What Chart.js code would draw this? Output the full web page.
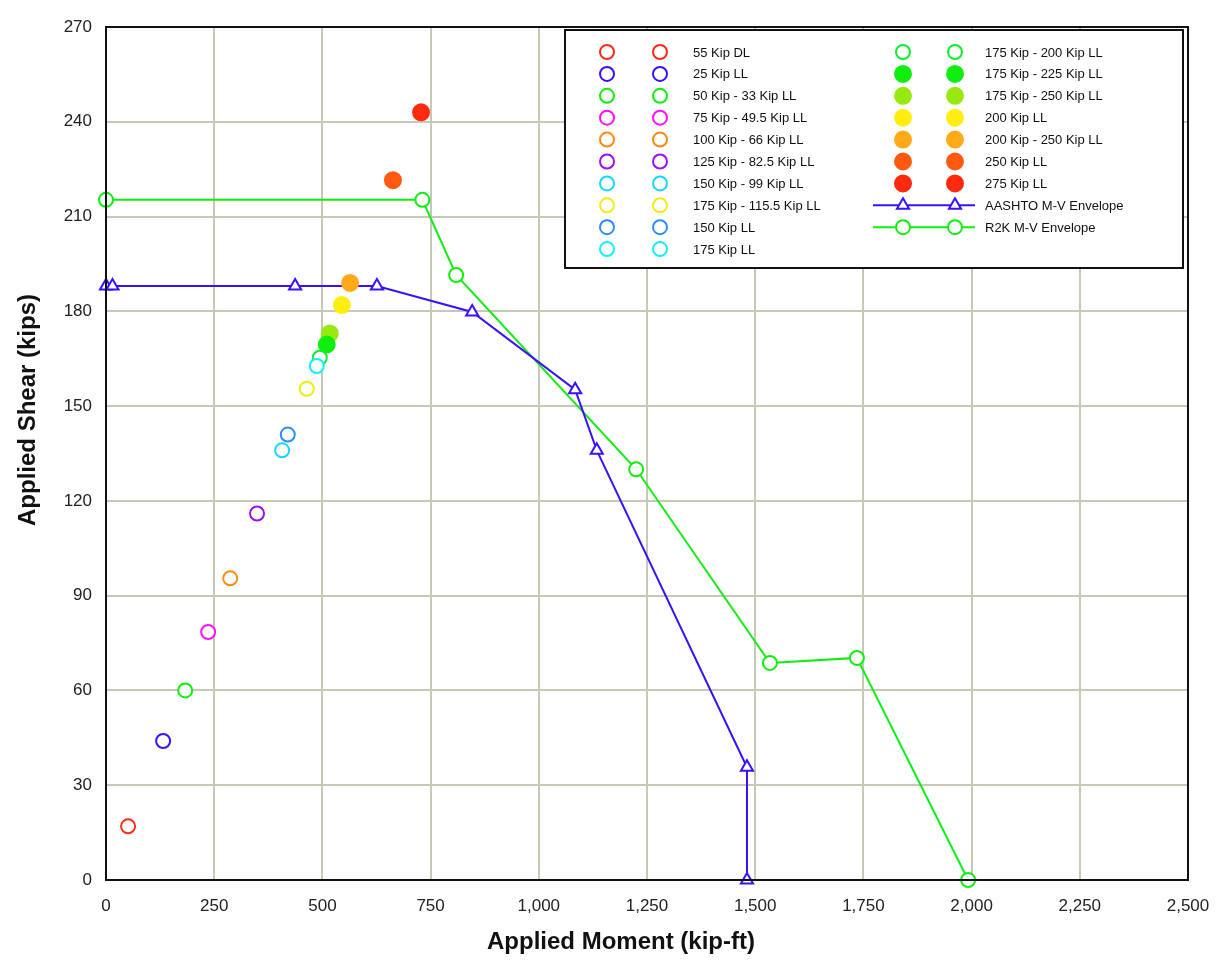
<!DOCTYPE html>
<html>
<head>
<meta charset="utf-8">
<script src="https://cdn.jsdelivr.net/npm/chart.js@4.4.0/dist/chart.umd.min.js"></script>
<style>
  html, body { margin: 0; padding: 0; background: #fff; }
  #wrap { width: 1231px; height: 963px; position: relative; }
</style>
</head>
<body>
<div id="wrap"><canvas id="mvChart"></canvas></div>
<script>
// Single load cases (one point each)
const loadLabels = ['55 Kip DL', '25 Kip LL', '50 Kip - 33 Kip LL', '75 Kip - 49.5 Kip LL',
  '100 Kip - 66 Kip LL', '125 Kip - 82.5 Kip LL', '150 Kip - 99 Kip LL', '175 Kip - 115.5 Kip LL',
  '150 Kip LL', '175 Kip LL', '175 Kip - 200 Kip LL', '175 Kip - 225 Kip LL', '175 Kip - 250 Kip LL',
  '200 Kip LL', '200 Kip - 250 Kip LL', '250 Kip LL', '275 Kip LL'];
const loadMoment = [51, 132, 183, 236, 287, 349, 407, 464, 420, 487, 494, 510, 517, 545, 564, 663, 728];
const loadShear = [17, 44, 60, 78.5, 95.5, 116, 136, 155.5, 141, 162.7, 165.3, 169.5, 173, 182, 189, 221.5, 243];
const loadColors = ['#ff2a1a', '#3a10ff', '#10ee10', '#ff10ff', '#ff8a10', '#9a10ff', '#10d8ff', '#eeee10',
  '#2a8cff', '#10f0ff', '#10ee30', '#10ee10', '#99e810', '#ffee10', '#ffaa18', '#ff5a10', '#ff2a10'];
const loadFilled = [false, false, false, false, false, false, false, false, false, false, false,
  true, true, true, true, true, true];

// Envelopes
const aashtoMoment = [0, 15, 437, 626, 846, 1084, 1134, 1481, 1481];
const aashtoShear = [188, 188, 188, 188, 179.8, 155.2, 136, 35.7, 0];
const r2kMoment = [0, 731, 809, 1225, 1534, 1735, 1992];
const r2kShear = [215.3, 215.3, 191.5, 130, 68.7, 70.3, 0];

const FONT = "'Liberation Sans', Arial, sans-serif";

function toPoints(xs, ys) {
  return xs.map((x, i) => ({ x: x, y: ys[i] }));
}

const datasets = loadLabels.map((name, i) => ({
  label: name,
  data: [{ x: loadMoment[i], y: loadShear[i] }],
  showLine: false,
  pointStyle: 'circle',
  pointRadius: loadFilled[i] ? 8 : 7,
  pointBorderWidth: 2,
  borderColor: loadColors[i],
  backgroundColor: loadFilled[i] ? loadColors[i] : '#ffffff',
  clip: false
}));

datasets.push({
  label: 'AASHTO M-V Envelope',
  data: toPoints(aashtoMoment, aashtoShear),
  showLine: true,
  borderColor: '#3a10ff',
  borderWidth: 2,
  backgroundColor: '#ffffff',
  pointStyle: 'triangle',
  pointRadius: 7,
  pointBorderWidth: 2,
  clip: false
});
datasets.push({
  label: 'R2K M-V Envelope',
  data: toPoints(r2kMoment, r2kShear),
  showLine: true,
  borderColor: '#10ee10',
  borderWidth: 2,
  backgroundColor: '#ffffff',
  pointStyle: 'circle',
  pointRadius: 7,
  pointBorderWidth: 2,
  clip: false
});

// Frame, axis titles and the boxed two-column legend
const decorPlugin = {
  id: 'decor',
  afterDraw(chart) {
    const ctx = chart.ctx;
    const a = chart.chartArea;
    ctx.save();
    // plot frame
    ctx.strokeStyle = '#111';
    ctx.lineWidth = 2;
    ctx.strokeRect(a.left, a.top, a.right - a.left, a.bottom - a.top);

    // axis titles
    ctx.fillStyle = '#111';
    ctx.font = 'bold 24px ' + FONT;
    ctx.textAlign = 'center';
    ctx.textBaseline = 'middle';
    ctx.fillText('Applied Moment (kip-ft)', 621, 942);
    ctx.save();
    ctx.translate(28, 410);
    ctx.rotate(-Math.PI / 2);
    ctx.fillText('Applied Shear (kips)', 0, 0);
    ctx.restore();

    // legend box
    ctx.fillStyle = '#fff';
    ctx.fillRect(565, 30, 618, 238);
    ctx.strokeStyle = '#111';
    ctx.lineWidth = 2;
    ctx.strokeRect(565, 30, 618, 238);

    ctx.font = '13px ' + FONT;
    ctx.textAlign = 'left';
    chart.data.datasets.forEach((ds, i) => {
      const col = i < 10 ? 0 : 1;
      const row = i < 10 ? i : i - 10;
      const y = 52 + row * 21.9;
      const m1 = col === 0 ? 607 : 903;
      const m2 = col === 0 ? 660 : 955;
      const tx = col === 0 ? 693 : 985;
      if (ds.showLine) {
        ctx.strokeStyle = ds.borderColor;
        ctx.lineWidth = 2;
        ctx.beginPath();
        ctx.moveTo(873, y);
        ctx.lineTo(975, y);
        ctx.stroke();
      }
      [m1, m2].forEach(mx => {
        ctx.strokeStyle = ds.borderColor;
        ctx.fillStyle = ds.backgroundColor;
        ctx.lineWidth = ds.pointBorderWidth;
        Chart.helpers.drawPoint(ctx, {
          pointStyle: ds.pointStyle,
          radius: ds.pointRadius,
          rotation: 0,
          borderWidth: ds.pointBorderWidth
        }, mx, y);
      });
      ctx.fillStyle = '#111';
      ctx.fillText(ds.label, tx, y + 1);
    });
    ctx.restore();
  }
};

const ctx = document.getElementById('mvChart').getContext('2d');
window.mvChart = new Chart(ctx, {
  type: 'scatter',
  data: { datasets: datasets },
  options: {
    responsive: true,
    maintainAspectRatio: false,
    animation: false,
    layout: { padding: { top: 27, right: 43, left: 0, bottom: 0 } },
    plugins: {
      legend: { display: false },
      tooltip: { enabled: false }
    },
    scales: {
      x: {
        type: 'linear',
        min: 0,
        max: 2500,
        afterFit(scale) { scale.height = 83; },
        grid: { color: '#c8c8b8', lineWidth: 2, drawTicks: false },
        border: { display: false },
        ticks: {
          stepSize: 250,
          padding: 16,
          color: '#222',
          font: { family: FONT, size: 17 },
          callback: v => v.toLocaleString('en-US')
        }
      },
      y: {
        type: 'linear',
        min: 0,
        max: 270,
        afterFit(scale) { scale.width = 106; },
        grid: { color: '#c8c8b8', lineWidth: 2, drawTicks: false },
        border: { display: false },
        ticks: {
          stepSize: 30,
          padding: 14,
          color: '#222',
          font: { family: FONT, size: 17 }
        }
      }
    }
  },
  plugins: [decorPlugin]
});
</script>
</body>
</html>
